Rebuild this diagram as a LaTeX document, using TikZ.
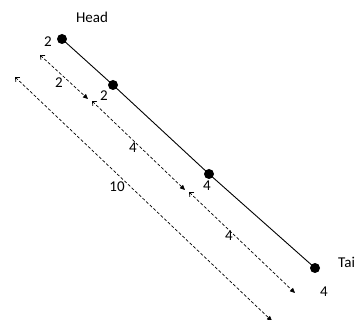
\documentclass[tikz,border=0pt]{standalone}
\usepackage{fontspec}
\setmainfont{Carlito}
\usetikzlibrary{arrows.meta}
\begin{document}
\begin{tikzpicture}[x=1pt,y=-1pt,
  dot/.style={circle,fill=black,inner sep=0pt,minimum size=10pt},
  lbl/.style={font=\fontsize{15}{17}\selectfont,inner sep=0pt},
  dim/.style={densely dashed,line width=0.7pt,{Straight Barb[length=3.5pt,width=6pt]}-{Triangle[length=5pt,width=4.5pt]}},
  seg/.style={line width=0.9pt}]
\useasboundingbox (0,0) rectangle (356,320);
\node[dot] (d1) at (62,39) {};
\node[dot] (d2) at (113,85) {};
\node[dot] (d3) at (209,174) {};
\node[dot] (d4) at (315,268) {};
\draw[seg] (d1.center) -- (d2.center) -- (d3.center) -- (d4.center);
\node[lbl] (head) at (92,17) {Head};
\node[lbl,anchor=west] (tail) at (338,262) {Tai};
\node[lbl] (l1) at (48,42) {2};
\node[lbl] (l2) at (104,96) {2};
\node[lbl] (l3) at (207,186) {4};
\node[lbl] (l4) at (324,292) {4};
\coordinate (a1) at (40,55);
\coordinate (a2) at (88,99);
\coordinate (b1) at (92,101);
\coordinate (b2) at (185,190);
\coordinate (c1) at (189,192);
\coordinate (c2) at (295,293);
\coordinate (e1) at (15,77);
\coordinate (e2) at (272,321);
\draw[dim] (a1) -- (a2);
\draw[dim] (b1) -- (b2);
\draw[dim] (c1) -- (c2);
\draw[dim] (e1) -- (e2);
\node[lbl] (m1) at (59,83) {2};
\node[lbl] (m2) at (133,148) {4};
\node[lbl] (m3) at (229,236) {4};
\node[lbl] (m4) at (117,187) {10};
\end{tikzpicture}
\end{document}
